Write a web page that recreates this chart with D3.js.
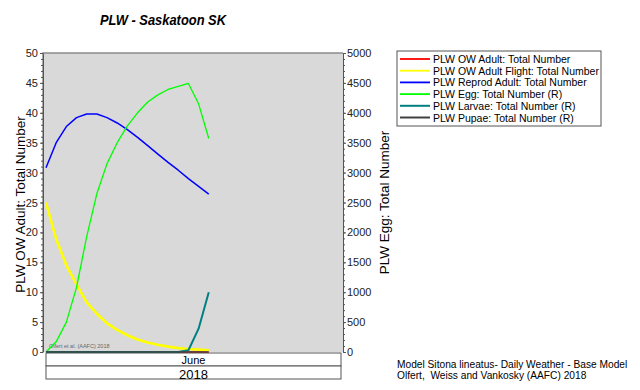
<!DOCTYPE html>
<html>
<head>
<meta charset="utf-8">
<script src="https://cdn.jsdelivr.net/npm/d3@7"></script>
<style>
  body { margin: 0; background: #fff; }
  svg { font-family: "Liberation Sans", Arial, sans-serif; }
</style>
</head>
<body>
<svg id="viz" width="640" height="390"></svg>
<script>
// ----------------------- DATA (June 1 .. June 17, 2018)
const days = d3.range(1, 18).map(d => new Date(2018, 5, d));

const owAdult = [0, 0, 0, 0, 0, 0, 0, 0, 0, 0, 0, 0, 0, 0, 0, 0, 0];
const owAdultFlight = [25.0, 18.9, 14.5, 11.3, 8.3, 6.4, 4.8, 3.7, 2.8, 2.1, 1.6, 1.2, 0.9, 0.65, 0.5, 0.4, 0.3];
const reprodAdult = [30.8, 35.0, 37.7, 39.2, 39.8, 39.8, 39.2, 38.3, 37.2, 35.9, 34.5, 33.1, 31.7, 30.4, 29.0, 27.7, 26.4];
const egg = [0, 170, 500, 1080, 1930, 2650, 3150, 3500, 3780, 4000, 4180, 4300, 4390, 4440, 4490, 4150, 3570];
const larvae = [0, 0, 0, 0, 0, 0, 0, 0, 0, 0, 0, 0, 0, 0, 30, 390, 1000];
const pupae = [0, 0, 0, 0, 0, 0, 0, 0, 0, 0, 0, 0, 0, 0, 0, 0, 0];

const leftTicks = d3.range(0, 51, 5);
const rightTicks = d3.range(0, 5001, 500);

const series = [
  { name: 'PLW OW Adult: Total Number', values: owAdult, axis: 'L', color: '#ff0000', w: 1.3 },
  { name: 'PLW OW Adult Flight: Total Number', values: owAdultFlight, axis: 'L', color: '#ffff00', w: 2.6 },
  { name: 'PLW Reprod Adult: Total Number', values: reprodAdult, axis: 'L', color: '#0000ff', w: 1.5 },
  { name: 'PLW Egg: Total Number (R)', values: egg, axis: 'R', color: '#00ff00', w: 1.3 },
  { name: 'PLW Larvae: Total Number (R)', values: larvae, axis: 'R', color: '#008080', w: 2 },
  { name: 'PLW Pupae: Total Number (R)', values: pupae, axis: 'R', color: '#404040', w: 1.6 }
];

// ----------------------- SETTINGS
const plot = { left: 43, right: 343, top: 53, bottom: 352 };

const svg = d3.select('#viz');

const x = d3.scaleTime()
  .domain([new Date(2018, 5, 1), new Date(2018, 5, 30)])
  .range([46, 341]);

const yL = d3.scaleLinear().domain([0, 50]).range([plot.bottom, plot.top]);
const yR = d3.scaleLinear().domain([0, 5000]).range([plot.bottom, plot.top]);

// title
svg.append('text')
  .attr('x', 163).attr('y', 25)
  .attr('text-anchor', 'middle')
  .style('font-size', '15.5px').style('font-weight', 'bold').style('font-style', 'italic')
  .attr('textLength', 126).attr('lengthAdjust', 'spacingAndGlyphs')
  .text('PLW - Saskatoon SK');

// plot background
svg.append('rect')
  .attr('x', plot.left).attr('y', plot.top)
  .attr('width', plot.right - plot.left).attr('height', plot.bottom - plot.top)
  .attr('fill', '#d9d9d9');

svg.append('path')
  .attr('d', `M${plot.left},${plot.bottom}V${plot.top}H${plot.right}`)
  .attr('fill', 'none').attr('stroke', '#8c8c8c').attr('stroke-width', 1.5);

// watermark
svg.append('text')
  .attr('x', 49).attr('y', 348)
  .style('font-size', '5.5px').attr('fill', '#666')
  .text('Olfert et al. (AAFC) 2018');

// ----------------------- AXES
function styleAxis(g) {
  g.select('.domain').attr('stroke', '#555');
  g.selectAll('.tick line').attr('stroke', '#555');
  g.selectAll('.tick text').attr('fill', '#222').style('font-size', '11px');
}

svg.append('g')
  .attr('transform', `translate(${plot.left},0)`)
  .call(d3.axisLeft(yL).tickValues(d3.range(0, 51, 1)).tickSize(2).tickFormat(''))
  .call(g => g.select('.domain').remove())
  .selectAll('line').attr('stroke', '#555');

svg.append('g')
  .attr('transform', `translate(${plot.left},0)`)
  .call(d3.axisLeft(yL).tickValues(leftTicks).tickSize(3).tickPadding(2).tickSizeOuter(0))
  .call(styleAxis);

svg.append('g')
  .attr('transform', `translate(${plot.right},0)`)
  .call(d3.axisRight(yR).tickValues(d3.range(0, 5001, 100)).tickSize(2).tickFormat(''))
  .call(g => g.select('.domain').remove())
  .selectAll('line').attr('stroke', '#555');

svg.append('g')
  .attr('transform', `translate(${plot.right},0)`)
  .call(d3.axisRight(yR).tickValues(rightTicks).tickSize(3).tickPadding(1).tickSizeOuter(0)
    .tickFormat(d3.format('d')))
  .call(styleAxis);

// axis titles
svg.append('text')
  .attr('transform', `translate(25,${(plot.top + plot.bottom) / 2 + 2}) rotate(-90)`)
  .attr('text-anchor', 'middle')
  .style('font-size', '13.5px')
  .text('PLW OW Adult: Total Number');

svg.append('text')
  .attr('transform', `translate(389,${(plot.top + plot.bottom) / 2}) rotate(-90)`)
  .attr('text-anchor', 'middle')
  .style('font-size', '13.5px')
  .text('PLW Egg: Total Number');

// x axis boxes: month and year
const x0 = x.range()[0], x1 = x.range()[1];
svg.append('rect')
  .attr('x', x0).attr('y', 353).attr('width', x1 - x0).attr('height', 13)
  .attr('fill', '#fff').attr('stroke', '#555');
svg.append('text')
  .attr('x', x(new Date(2018, 5, 15, 12))).attr('y', 364)
  .attr('text-anchor', 'middle').style('font-size', '11px')
  .text('June');
svg.append('rect')
  .attr('x', x0).attr('y', 366).attr('width', x1 - x0).attr('height', 13)
  .attr('fill', '#fff').attr('stroke', '#555');
svg.append('text')
  .attr('x', x(new Date(2018, 5, 15, 12))).attr('y', 378.5)
  .attr('text-anchor', 'middle').style('font-size', '13px')
  .text('2018');

// ----------------------- LINES
series.forEach(s => {
  const y = s.axis === 'L' ? yL : yR;
  const line = d3.line()
    .x((d, i) => x(days[i]))
    .y(d => y(d));
  svg.append('path')
    .datum(s.values)
    .attr('fill', 'none')
    .attr('stroke', s.color)
    .attr('stroke-width', s.w)
    .attr('stroke-linejoin', 'round')
    .attr('d', line);
});

// ----------------------- LEGEND
const legend = svg.append('g').attr('transform', 'translate(397,51)');
legend.append('rect')
  .attr('width', 204).attr('height', 75)
  .attr('fill', '#fff').attr('stroke', '#555');

series.forEach((s, i) => {
  const ly = 8 + i * 11.7;
  legend.append('line')
    .attr('x1', 3).attr('x2', 33).attr('y1', ly).attr('y2', ly)
    .attr('stroke', s.color).attr('stroke-width', i > 3 ? 2 : 1.8);
  legend.append('text')
    .attr('x', 36).attr('y', ly + 4)
    .style('font-size', '10.5px')
    .text(s.name);
});

// footnote
svg.append('text')
  .attr('x', 397).attr('y', 368)
  .style('font-size', '10.2px')
  .text('Model Sitona lineatus- Daily Weather - Base Model');
svg.append('text')
  .attr('x', 397).attr('y', 379)
  .style('font-size', '10.2px')
  .style('white-space', 'pre')
  .text('Olfert,  Weiss and Vankosky (AAFC) 2018');
</script>
</body>
</html>
